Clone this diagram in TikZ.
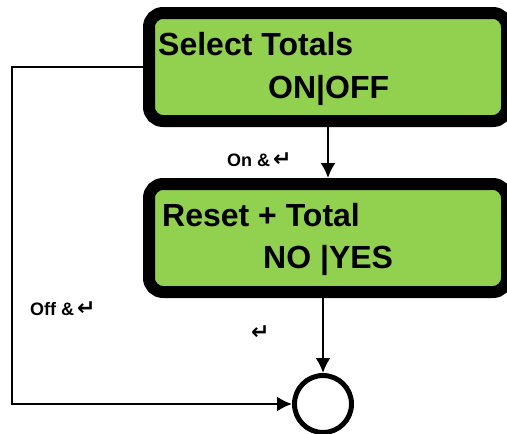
\documentclass[tikz,border=0pt]{standalone}
\usepackage{fontspec}
\setmainfont{Liberation Sans}
\newfontfamily\symfont{DejaVu Sans}
\newcommand{\enterkey}{{\symfont\fontsize{22}{22}\selectfont ↵}}
\usetikzlibrary{arrows.meta}
\definecolor{lcdgreen}{HTML}{92D050}
\begin{document}
\begin{tikzpicture}[x=1pt, y=-1pt, >={Latex[length=15pt,width=15pt]},
        screen/.style={draw, line width=12pt, rounded corners=14pt, fill=lcdgreen, minimum width=358pt, minimum height=108pt, inner sep=0pt},
        screentext/.style={font=\fontsize{32}{38}\selectfont\bfseries, inner sep=0pt, anchor=base west},
        cond/.style={font=\fontsize{18}{21}\selectfont\bfseries, inner sep=0pt, anchor=base west},
        flow/.style={->, line width=2pt}]
      \useasboundingbox (0,0) rectangle (507,434);
      \clip (0,0) rectangle (507,434);
      \node[screen] (sel) at (328,67) {};
      \node[screen] (rst) at (328,238) {};
      \node[draw, circle, line width=5pt, minimum size=57pt, inner sep=0pt] (done) at (323,404) {};
      \node[screentext] (seltitle) at (158,55) {Select Totals};
      \node[screentext] (selopt)   at (268,98) {ON|OFF};
      \node[screentext] (rsttitle) at (162,226) {Reset + Total};
      \node[screentext] (rstopt)   at (263,268) {NO |YES};
      \node[cond] (onlbl)  at (227,166) {On \&\,\enterkey};
      \node[cond] (offlbl) at (30,315)  {Off \&\,\enterkey};
      \node[cond] (entlbl) at (251,339) {\enterkey};
      \coordinate (corner) at (12,404);
      \draw[flow] (sel) -- (rst);
      \draw[flow] (done.north |- rst.south) -- (done);
      \draw[flow] (sel.west) -| (corner) -- (done.west);
    \end{tikzpicture}
\end{document}
